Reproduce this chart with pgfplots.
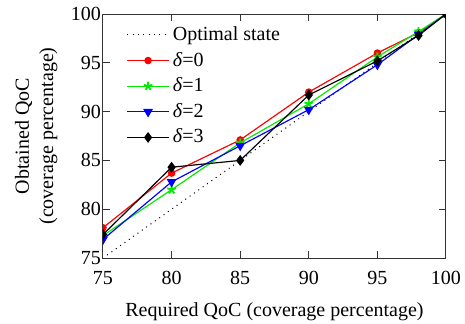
\documentclass[border=0pt,12pt]{standalone}
\usepackage{fontspec}
\setmainfont{Liberation Serif}
\usepackage{pgfplots}
\pgfplotsset{compat=1.18}
\begin{document}
\begin{tikzpicture}
\begin{axis}[
  at={(0,0)}, anchor=south west,
  scale only axis,
  width=205.8pt, height=146.4pt,
  xmin=75, xmax=100, ymin=75, ymax=100,
  xtick={75,80,85,90,95,100},
  ytick={75,80,85,90,95,100},
  tick align=inside, tick pos=both,
  major tick length=4pt,
  axis line style={draw=black!80, line width=0.6pt},
  every tick/.style={black!80, line width=0.6pt},
  /pgf/number format/assume math mode=true,
  xticklabel style={yshift=-4pt},
  yticklabel style={xshift=3pt},
  xlabel={Required QoC (coverage percentage)},
  ylabel={Obtained QoC\\(coverage percentage)},
  ylabel style={align=center, yshift=0pt},
  xlabel style={yshift=-2pt},
  legend style={draw=none, fill=none, at={(0,1)}, anchor=north west,
    xshift=11pt, yshift=-3.3pt, row sep=1.2pt,
    font=\normalsize, cells={anchor=west}},
  legend image code/.code={
    \draw[#1] (0cm,0cm) -- (25pt,0cm);
    \draw[#1, only marks] plot coordinates {(12.5pt,0cm)};
  },
  clip=true, clip marker paths=true,
]
\addplot[black, line width=0.6pt, dash pattern=on 0.6pt off 2.6pt] coordinates {(75.3,75.3) (100,100)};
\addlegendentry{Optimal state}
\addplot[red, line width=0.7pt, mark=*, mark size=1.9pt, mark options={solid, fill=red}] coordinates {
(75,78.1) (80,83.7) (85,87.1) (90,92.0) (95,96.0) (98,98.1) (100,100)};
\addlegendentry{\textit{δ}=0}
\addplot[color={rgb,255:red,0;green,235;blue,0}, line width=0.7pt, mark=star, mark size=2.7pt, mark options={solid, line width=1.1pt}] coordinates {
(75,77.3) (80,82.0) (85,86.8) (90,90.8) (95,95.6) (98,98.2) (100,100)};
\addlegendentry{\textit{δ}=1}
\addplot[blue, line width=0.7pt, mark=triangle*, mark size=2.7pt, mark options={solid, fill=blue, rotate=180}] coordinates {
(75,76.9) (80,82.8) (85,86.5) (90,90.2) (95,94.8) (98,97.9) (100,100)};
\addlegendentry{\textit{δ}=2}
\addplot[black, line width=0.7pt, mark=diamond*, mark size=2.7pt, mark options={solid, fill=black}] coordinates {
(75,77.4) (80,84.3) (85,85.0) (90,91.7) (95,95.2) (98,97.8) (100,100)};
\addlegendentry{\textit{δ}=3}
\end{axis}
\pgfresetboundingbox
\path[use as bounding box] (-61.8pt,-39pt) rectangle (217.2pt,154.8pt);
\end{tikzpicture}
\end{document}
